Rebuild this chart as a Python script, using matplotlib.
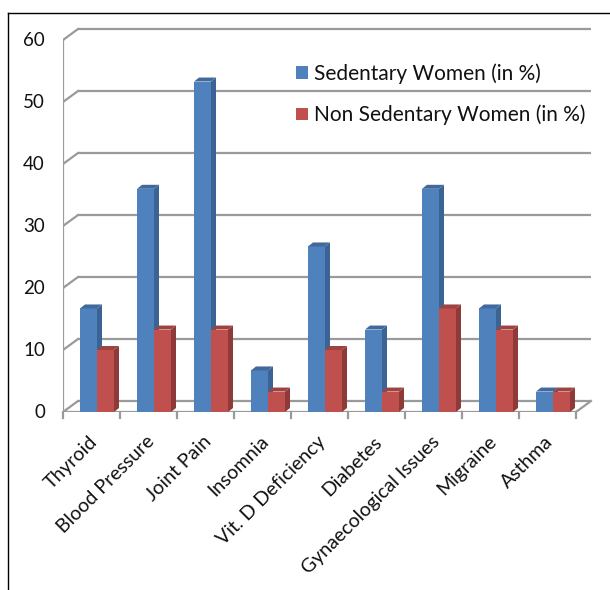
#!/usr/bin/env python3

import numpy as np
import matplotlib
matplotlib.use("Agg")
import matplotlib.pyplot as plt
from matplotlib.patches import Polygon, Patch
from matplotlib.lines import Line2D

# ---------------- DATA ----------------
categories = ["Thyroid", "Blood Pressure", "Joint Pain", "Insomnia",
              "Vit. D Deficiency", "Diabetes", "Gynaecological Issues",
              "Migraine", "Asthma"]
sedentary = [16.7, 36.0, 53.3, 6.7, 26.7, 13.3, 36.0, 16.7, 3.3]
non_sedentary = [10.0, 13.3, 13.3, 3.3, 10.0, 3.3, 16.7, 13.3, 3.3]
series_labels = ["Sedentary Women (in %)", "Non Sedentary Women (in %)"]
y_ticks = [0, 10, 20, 30, 40, 50, 60]

# ---------------- STYLE ----------------
W, H = 610, 590
PX_CAT = 57.0      # pixels per category
PX_UNIT = 6.2      # pixels per value unit
DX = 15 / PX_CAT   # wall depth
DY = 11 / PX_UNIT
BDX = 5 / PX_CAT   # bar depth
BDY = 4 / PX_UNIT
BAR_W = 17 / PX_CAT
BAR_OFF = 17 / PX_CAT

GRID = "#9a9a9a"
TXT = "#111111"
BLUE = ("#4F81BD", "#3B6494", "#41699C")   # front, side, top
RED = ("#C0504D", "#8E3A38", "#A0423F")

plt.rcParams['font.family'] = ['Lato', 'DejaVu Sans']

fig = plt.figure(figsize=(W / 100, H / 100), dpi=100)
ax_left, ax_right, ax_bottom, ax_top = 63, 594, 412, 25
ax = fig.add_axes([ax_left / W, (H - ax_bottom) / H,
                   (ax_right - ax_left) / W, (ax_bottom - ax_top) / H])
x0 = -0.5
xend = len(categories) - 0.5
ax.set_xlim(x0, x0 + (ax_right - ax_left) / PX_CAT)
ax.set_ylim(0, (ax_bottom - ax_top) / PX_UNIT)
ax.axis("off")

# back wall gridlines + diagonals from front axis
for v in y_ticks:
    ax.plot([x0 + DX, xend + DX], [v + DY, v + DY], color=GRID, lw=1.6,
            solid_capstyle="butt", zorder=1)
    ax.plot([x0, x0 + DX], [v, v + DY], color=GRID, lw=1.6, zorder=1)
    ax.plot([x0 - 5 / PX_CAT, x0], [v, v], color=GRID, lw=1.6, zorder=1)
    ax.text(x0 - 18 / PX_CAT, v, str(v), ha="right", va="center",
            fontsize=13.5, color=TXT)

# front axis and floor
ax.plot([x0, x0], [0, 60], color=GRID, lw=1.6, zorder=1)
ax.plot([x0, xend], [0, 0], color=GRID, lw=1.6, zorder=1)
ax.plot([xend, xend + DX], [0, DY], color=GRID, lw=1.6, zorder=1)
for b in np.arange(x0, xend + 0.01, 1.0):
    ax.plot([b, b], [0, -6 / PX_UNIT], color=GRID, lw=1.6, clip_on=False, zorder=1)


def bar3d(x, h, cols, z):
    ax.bar(x, h, width=BAR_W, align="edge", color=cols[0], lw=0, zorder=z)
    side = [(x + BAR_W, 0), (x + BAR_W + BDX, BDY),
            (x + BAR_W + BDX, h + BDY), (x + BAR_W, h)]
    top = [(x, h), (x + BAR_W, h), (x + BAR_W + BDX, h + BDY), (x + BDX, h + BDY)]
    ax.add_patch(Polygon(side, closed=True, fc=cols[1], lw=0, zorder=z))
    ax.add_patch(Polygon(top, closed=True, fc=cols[2], lw=0, zorder=z))


for i, (s, n) in enumerate(zip(sedentary, non_sedentary)):
    left = i - 0.5 + BAR_OFF
    bar3d(left, s, BLUE, 3 + 2 * i)
    bar3d(left + BAR_W, n, RED, 4 + 2 * i)

# category labels
for i, c in enumerate(categories):
    ax.text(i - 3 / PX_CAT, -21 / PX_UNIT, c, rotation=45, ha="right",
            va="top", rotation_mode="anchor", fontsize=14,
            color=TXT, clip_on=False)

# legend
handles = [Patch(facecolor=BLUE[0]), Patch(facecolor=RED[0])]
fig.legend(handles, series_labels, loc="upper left",
           bbox_to_anchor=(286 / W, 1 - 53 / H), frameon=False,
           fontsize=15, handlelength=0.55, handleheight=0.55,
           handletextpad=0.3, labelspacing=1.0, borderpad=0,
           labelcolor=TXT)

# outer frame (left and top edges visible)
fig.add_artist(Line2D([7.5 / W, 7.5 / W], [0, 1 - 13 / H], color="black", lw=1))
fig.add_artist(Line2D([7.5 / W, 1], [1 - 13 / H, 1 - 13 / H], color="black", lw=1))

fig.savefig("out.png", dpi=100)
